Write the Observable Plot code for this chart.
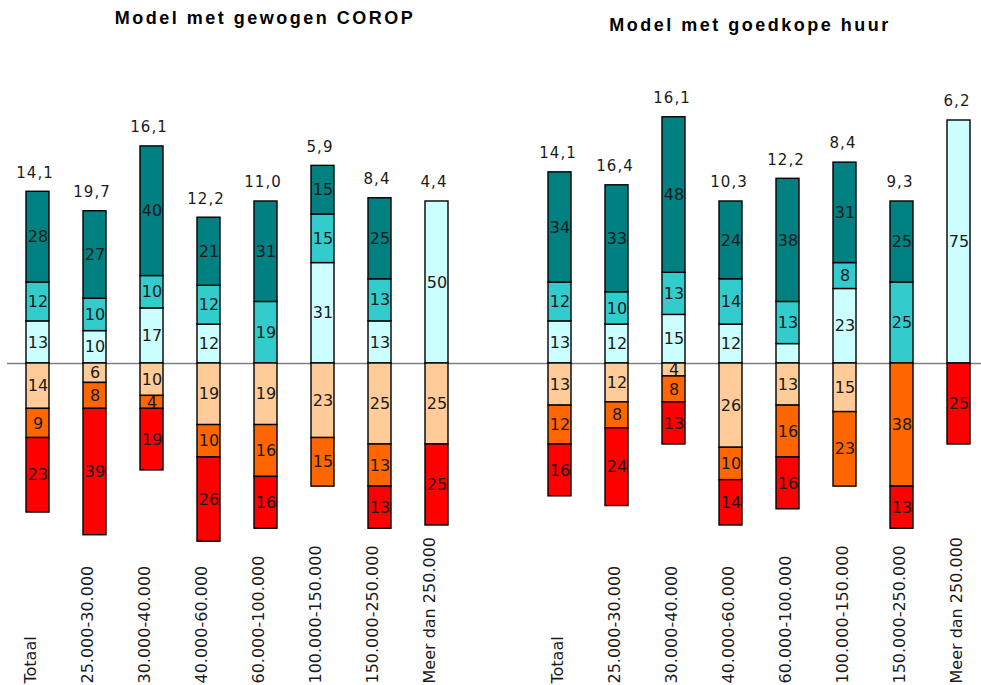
<!DOCTYPE html>
<html>
<head>
<meta charset="utf-8">
<script src="https://cdn.jsdelivr.net/npm/d3@7"></script>
<script src="https://cdn.jsdelivr.net/npm/@observablehq/plot@0.6"></script>
<style>
  html, body { margin: 0; padding: 0; background: #fff; }
  #wrap { position: relative; width: 981px; height: 685px; overflow: hidden; }
  .panel { position: absolute; top: 0; }
  .title { position: absolute; font-family: "Liberation Sans", Arial, sans-serif; font-weight: bold;
           font-size: 18px; line-height: 18px; letter-spacing: 2.5px; color: #000; white-space: nowrap;
           transform: translateX(-50%); }
  .tot { letter-spacing: 1px; }
</style>
</head>
<body>
<div id="wrap"></div>
<script>
// ---- Data ----
const categories = ["Totaal", "25.000-30.000", "30.000-40.000", "40.000-60.000",
  "60.000-100.000", "100.000-150.000", "150.000-250.000", "Meer dan 250.000"];

const seriesColors = ["#CCFFFF", "#33CCCC", "#008080", "#FFCC99", "#FF6600", "#FF0000"];

// Model met gewogen COROP
const coropTitle = "Model met gewogen COROP";
const coropTotals = ["14,1", "19,7", "16,1", "12,2", "11,0", "5,9", "8,4", "4,4"];
const coropPos1 = [13, 10, 17, 12, 0, 31, 13, 50];
const coropPos2 = [12, 10, 10, 12, 19, 15, 13, 0];
const coropPos3 = [28, 27, 40, 21, 31, 15, 25, 0];
const coropNeg1 = [14, 6, 10, 19, 19, 23, 25, 25];
const coropNeg2 = [9, 8, 4, 10, 16, 15, 13, 0];
const coropNeg3 = [23, 39, 19, 26, 16, 0, 13, 25];

// Model met goedkope huur
const huurTitle = "Model met goedkope huur";
const huurTotals = ["14,1", "16,4", "16,1", "10,3", "12,2", "8,4", "9,3", "6,2"];
const huurPos1 = [13, 12, 15, 12, 6, 23, 0, 75];
const huurPos2 = [12, 10, 13, 14, 13, 8, 25, 0];
const huurPos3 = [34, 33, 48, 24, 38, 31, 25, 0];
const huurNeg1 = [13, 12, 4, 26, 13, 15, 0, 0];
const huurNeg2 = [12, 8, 8, 10, 16, 23, 38, 0];
const huurNeg3 = [16, 24, 13, 14, 16, 0, 13, 25];
// segments drawn without a value label in the original
const huurUnlabeled = [["60.000-100.000", 0]];

// ---- Build segments ----
function buildSegments(pos, neg, unlabeled = []) {
  const segs = [];
  categories.forEach((cat, i) => {
    let up = 0;
    pos.forEach((arr, s) => {
      const v = arr[i];
      if (v > 0) {
        const hide = unlabeled.some(([c, k]) => c === cat && k === s);
        segs.push({cat, s, value: v, y1: up, y2: up + v, label: hide ? "" : String(v)});
      }
      up += v;
    });
    let down = 0;
    neg.forEach((arr, j) => {
      const v = arr[i];
      if (v > 0) segs.push({cat, s: 3 + j, value: v, y1: down, y2: down - v, label: String(v)});
      down -= v;
    });
  });
  return segs;
}

function panel({pos, neg, totals, unlabeled, width, range, marginLeft, catDx, totDx}) {
  const segs = buildSegments(pos, neg, unlabeled);
  const tops = categories.map((cat, i) => ({cat, top: pos.reduce((a, arr) => a + arr[i], 0), label: totals[i]}));
  const zeroY = 363, k = 3.24;
  return Plot.plot({
    width, height: 685,
    marginLeft, marginRight: 0, marginTop: 0, marginBottom: 2,
    style: {fontFamily: "DejaVu Sans, Verdana, sans-serif", background: "transparent", overflow: "visible"},
    x: {type: "band", domain: categories, range, paddingInner: 0.6, paddingOuter: 0.2, align: 0.5, axis: null},
    y: {domain: [-100, 100], range: [zeroY + 100 * k, zeroY - 100 * k], axis: null},
    marks: [
      Plot.ruleY([0], {stroke: "#808080", strokeWidth: 1.6}),
      Plot.barY(segs, {x: "cat", y1: "y1", y2: "y2", fill: d => seriesColors[d.s], stroke: "#000", strokeWidth: 1.4}),
      Plot.text(segs.filter(d => d.label !== ""), {x: "cat", y: d => (d.y1 + d.y2) / 2, text: "label",
        fontSize: 16, fill: "#1a1a1a", lineAnchor: "middle"}),
      Plot.text(tops, {x: "cat", y: "top", text: "label", dy: -19, dx: totDx, fontSize: 15, fill: "#1a1a1a",
        lineAnchor: "middle", className: "tot"}),
      Plot.text(categories, {x: d => d, text: d => d, frameAnchor: "bottom", rotate: -90, textAnchor: "start",
        lineAnchor: "middle", dx: catDx, fontSize: 16, fill: "#1a1a1a"})
    ]
  });
}

const wrap = document.getElementById("wrap");

const left = panel({pos: [coropPos1, coropPos2, coropPos3], neg: [coropNeg1, coropNeg2, coropNeg3],
  totals: coropTotals, unlabeled: [], width: 490, range: [11.5, 463.1], marginLeft: 7, catDx: -7, totDx: -3});
left.classList.add("panel"); left.style.left = "0px";
wrap.appendChild(left);

const right = panel({pos: [huurPos1, huurPos2, huurPos3], neg: [huurNeg1, huurNeg2, huurNeg3],
  totals: huurTotals, unlabeled: huurUnlabeled, width: 491, range: [43.1, 494.7], marginLeft: 0, catDx: -2, totDx: -2});
right.classList.add("panel"); right.style.left = "490px";
wrap.appendChild(right);

const t1 = document.createElement("div");
t1.className = "title"; t1.textContent = coropTitle; t1.style.left = "265px"; t1.style.top = "9px";
wrap.appendChild(t1);
const t2 = document.createElement("div");
t2.className = "title"; t2.textContent = huurTitle; t2.style.left = "750px"; t2.style.top = "16px";
wrap.appendChild(t2);
</script>
</body>
</html>
